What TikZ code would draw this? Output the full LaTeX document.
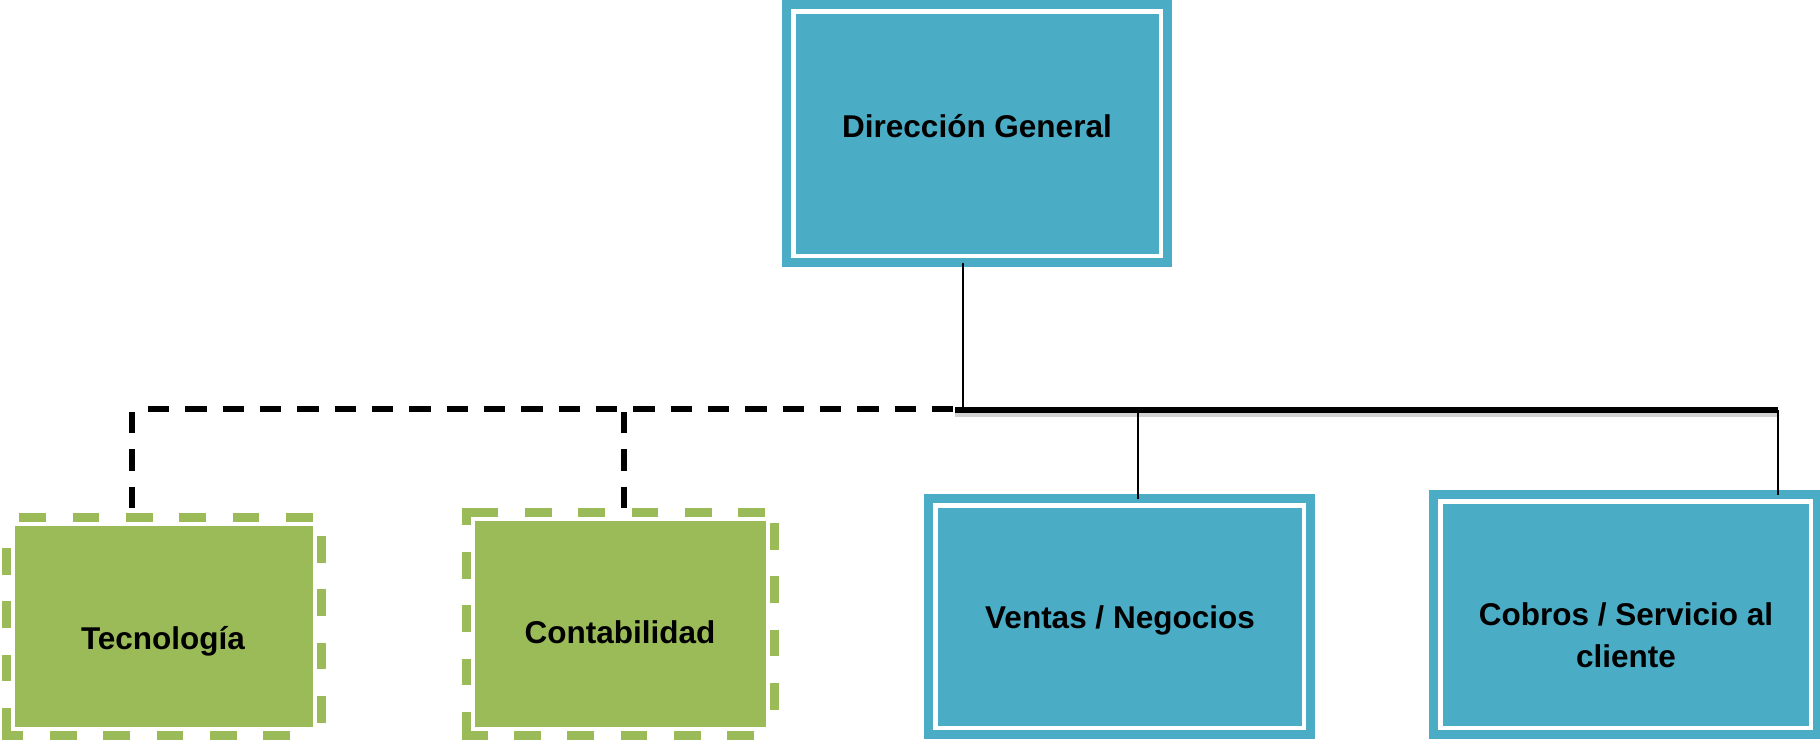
\documentclass[tikz,border=0pt]{standalone}
\usepackage{fontspec}
\setmainfont{Liberation Sans}
\definecolor{boxblue}{HTML}{4BACC6}
\definecolor{boxgreen}{HTML}{9BBB59}
\definecolor{shadowgray}{HTML}{D2D2D2}
\begin{document}
\begin{tikzpicture}[x=1pt,y=-1pt,
  bluebox/.style={rectangle, inner sep=0pt, outer sep=0pt, fill=boxblue, draw=boxblue, line width=9pt,
    path picture={\draw[white,line width=4.5pt]
      ([shift={(6.75pt,-6.75pt)}]path picture bounding box.north west) rectangle
      ([shift={(-6.75pt,6.75pt)}]path picture bounding box.south east);}},
  greenbox/.style={rectangle, inner sep=0pt, outer sep=0pt,
    path picture={\fill[boxgreen]
      ([shift={(8.5pt,-8.5pt)}]path picture bounding box.north west) rectangle
      ([shift={(-8.5pt,8.5pt)}]path picture bounding box.south east);}},
  greenedge/.style={draw=boxgreen, line width=9pt, dash pattern=on 26.67pt off 26.67pt},
  greencorner/.style={draw=boxgreen, line width=9pt, line join=miter},
  label/.style={font=\bfseries\fontsize{31.5}{42}\selectfont, text=black, inner sep=0pt, anchor=base, align=center},
  thinline/.style={draw=black, line width=2pt},
  solidbar/.style={draw=black, line width=5.3pt},
  shadowbar/.style={draw=shadowgray, line width=4pt},
  dashline/.style={draw=black, line width=5.3pt, dash pattern=on 21.33pt off 16pt}
]
\useasboundingbox (0,0) rectangle (1820,740);

% boxes
\node[bluebox, minimum width=381pt, minimum height=258pt] (dg) at (977,133.5) {};
\node[bluebox, minimum width=382pt, minimum height=236pt] (vn) at (1119.5,616.5) {};
\node[bluebox, minimum width=384pt, minimum height=240pt] (cs) at (1625.5,614.5) {};
\node[greenbox, minimum width=315.5pt, minimum height=217.5pt] (tc) at (163.75,626.25) {};
\node[greenbox, minimum width=307.5pt, minimum height=222.5pt] (ct) at (620.25,623.75) {};

% dashed green borders (Tecnologia)
\draw[greenedge] (19.3,517.5) -- (312.7,517.5);
\draw[greenedge] (321.5,536) -- (321.5,722.7);
\draw[greenedge] (50,735) -- (289.7,735);
\draw[greenedge] (6,548) -- (6,681.4);
\draw[greencorner] (6,708) -- (6,735) -- (23,735);
% dashed green borders (Contabilidad)
\draw[greencorner] (466.5,525) -- (466.5,512.5) -- (498.3,512.5);
\draw[greenedge] (525,512.5) -- (765,512.5);
\draw[greenedge] (774,523) -- (774,709.7);
\draw[greenedge] (466.5,552) -- (466.5,685.4);
\draw[greencorner] (466.5,712) -- (466.5,735) -- (488,735);
\draw[greenedge] (514,735) -- (754.7,735);

% labels
\node[label] (tdg) at (977,137) {Dirección General};
\node[label] (tvn) at (1120,628) {Ventas / Negocios};
\node[label] (tcs) at (1626,667) {Cobros / Servicio al\\cliente};
\node[label] (ttc) at (163,649) {Tecnología};
\node[label] (tct) at (620,643) {Contabilidad};

% junction coordinates
\coordinate (j) at (963,410);
\coordinate (bl) at (955,410);
\coordinate (br) at (1778,410);
\coordinate (jv) at (1138,407);
\coordinate (dl) at (148,409);
\coordinate (dr) at (953,409);
\coordinate (tv) at (132,412);
\coordinate (cv) at (624,412);

% solid connectors
\draw[shadowbar] ([yshift=-4.7pt]bl) -- ([yshift=-4.7pt]br);
\draw[solidbar] (bl) -- (br);
\draw[thinline] (dg.south -| j) -- (j);
\draw[thinline] (jv) -- (jv |- vn.north);
\draw[thinline] (br) -- (br |- cs.north);

% dashed connectors
\draw[dashline] (dl) -- (dr);
\draw[dashline] (tv) -- (tv |- tc.north);
\draw[dashline] (cv) -- (cv |- ct.north);
\end{tikzpicture}
\end{document}
